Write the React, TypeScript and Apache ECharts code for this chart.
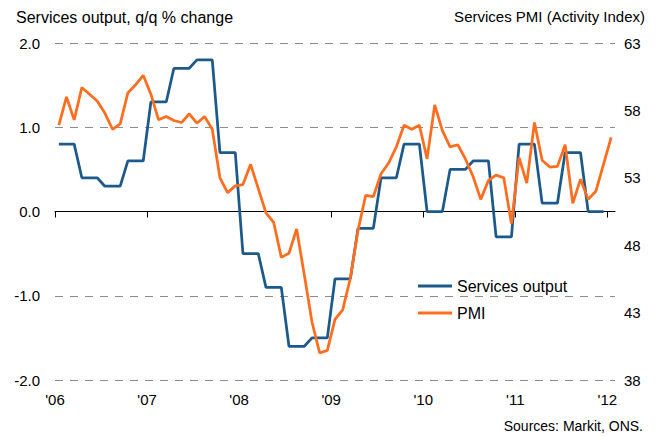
import React, { useEffect, useRef } from "react";
import * as echarts from "echarts";

// Quarterly services output, q/q % change (Q1 2006 .. Q4 2011)
const outputQuarterly: number[] = [
  0.8, 0.4, 0.3, 0.6,
  1.3, 1.7, 1.8, 0.7,
  -0.5, -0.9, -1.6, -1.5,
  -0.8, -0.2, 0.4, 0.8,
  0.0, 0.5, 0.6, -0.3,
  0.8, 0.1, 0.7, 0.0,
];

// Monthly services PMI (Jan 2006 .. Jan 2012)
const pmi: number[] = [
  56.9, 59.0, 57.3, 59.7, 59.2, 58.7, 57.8, 56.6, 57.0, 59.3, 59.9, 60.6,
  59.2, 57.3, 57.55, 57.25, 57.1, 57.75, 57.05, 57.55, 56.6, 53.0, 51.9, 52.4,
  52.5, 54.0, 52.2, 50.4, 49.7, 47.1, 47.4, 49.2, 45.8, 42.3, 40.0, 40.2,
  42.5, 43.2, 45.55, 49.1, 51.7, 51.6, 53.3, 54.1, 55.3, 56.9, 56.6, 56.9,
  54.4, 58.4, 56.5, 55.3, 55.45, 54.4, 53.1, 51.4, 52.8, 53.2, 53.0, 49.6,
  54.5, 52.6, 57.1, 54.3, 53.8, 53.85, 55.45, 51.1, 52.9, 51.4, 52.0, 54.0,
  56.0,
];

const yearTickMonths: number[] = [0, 12, 24, 36, 48, 60, 72];
const yearLabels: string[] = ["'06", "'07", "'08", "'09", "'10", "'11", "'12"];
const leftTicks: number[] = [-2, -1, 0, 1, 2];
const rightTicks: number[] = [38, 43, 48, 53, 58, 63];

const FONT = "'Liberation Sans', Arial, Helvetica, sans-serif";
const BLUE = "#1d5a8b";
const ORANGE = "#ff6d1f";

export default function App() {
  const ref = useRef<HTMLDivElement>(null);

  useEffect(() => {
    if (!ref.current) return;
    const chart = echarts.init(ref.current, undefined, { renderer: "svg" });

    const outputMonthly: number[][] = [];
    outputQuarterly.forEach((v, q) => {
      for (let m = 0; m < 3; m++) outputMonthly.push([q * 3 + m + 0.5, v]);
    });
    const pmiData = pmi.map((v, i) => [i + 0.5, v]);

    chart.setOption({
      animation: false,
      backgroundColor: "#ffffff",
      textStyle: { fontFamily: FONT },
      grid: { left: 55, right: 43, top: 43, bottom: 56, containLabel: false },
      legend: {
        orient: "vertical",
        left: 418,
        top: 278,
        padding: 0,
        itemGap: 11,
        itemWidth: 34,
        itemHeight: 3,
        icon: "rect",
        textStyle: { fontSize: 16, color: "#000", fontFamily: FONT, lineHeight: 16 },
        data: ["Services output", "PMI"],
      },
      graphic: [
        {
          type: "text",
          left: 16,
          top: 9,
          style: { text: "Services output, q/q % change", fontSize: 16, fill: "#000", fontFamily: FONT },
        },
        {
          type: "text",
          right: 13,
          top: 9,
          style: { text: "Services PMI (Activity Index)", fontSize: 15, fill: "#000", fontFamily: FONT },
        },
        {
          type: "text",
          right: 15,
          bottom: 3,
          style: { text: "Sources: Markit, ONS.", fontSize: 14, fill: "#000", fontFamily: FONT },
        },
      ],
      xAxis: {
        type: "value",
        min: 0,
        max: 73,
        interval: 12,
        axisLine: { show: true, lineStyle: { color: "#000", width: 1 } },
        axisTick: { show: true, length: 6, lineStyle: { color: "#000" }, customValues: yearTickMonths },
        axisLabel: {
          customValues: yearTickMonths,
          margin: 12,
          fontSize: 15,
          color: "#000",
          fontFamily: FONT,
          formatter: (v: number) => {
            const idx = yearTickMonths.indexOf(Math.round(v));
            return idx >= 0 ? yearLabels[idx] : "";
          },
        },
        splitLine: { show: false },
      },
      yAxis: [
        {
          type: "value",
          min: -2,
          max: 2,
          interval: 1,
          position: "left",
          axisLine: { show: false },
          axisTick: { show: false },
          axisLabel: {
            margin: 15,
            fontSize: 15,
            color: "#000",
            fontFamily: FONT,
            formatter: (v: number) => (leftTicks.includes(v) ? v.toFixed(1) : ""),
          },
          splitLine: { show: true, lineStyle: { color: "#8c8c8c", type: [8, 7], width: 1 } },
        },
        {
          type: "value",
          min: 38,
          max: 63,
          position: "right",
          axisLine: { show: false },
          axisTick: { show: false },
          axisLabel: {
            customValues: rightTicks,
            margin: 9,
            fontSize: 15,
            color: "#000",
            fontFamily: FONT,
          },
          splitLine: { show: false },
        },
      ],
      series: [
        {
          name: "Services output",
          type: "line",
          yAxisIndex: 0,
          data: outputMonthly,
          showSymbol: false,
          symbol: "none",
          lineStyle: { color: BLUE, width: 2.75 },
          itemStyle: { color: BLUE },
          z: 3,
          markLine: {
            silent: true,
            symbol: "none",
            label: { show: false },
            lineStyle: { color: "#000", width: 1, type: "solid" },
            data: [{ yAxis: 0 }],
            z: 2,
          },
        },
        {
          name: "PMI",
          type: "line",
          yAxisIndex: 1,
          data: pmiData,
          showSymbol: false,
          symbol: "none",
          lineStyle: { color: ORANGE, width: 2.75 },
          itemStyle: { color: ORANGE },
          z: 4,
        },
      ],
    });

    return () => chart.dispose();
  }, []);

  return <div ref={ref} style={{ width: 658, height: 436, position: "absolute", left: 0, top: 0 }} />;
}
